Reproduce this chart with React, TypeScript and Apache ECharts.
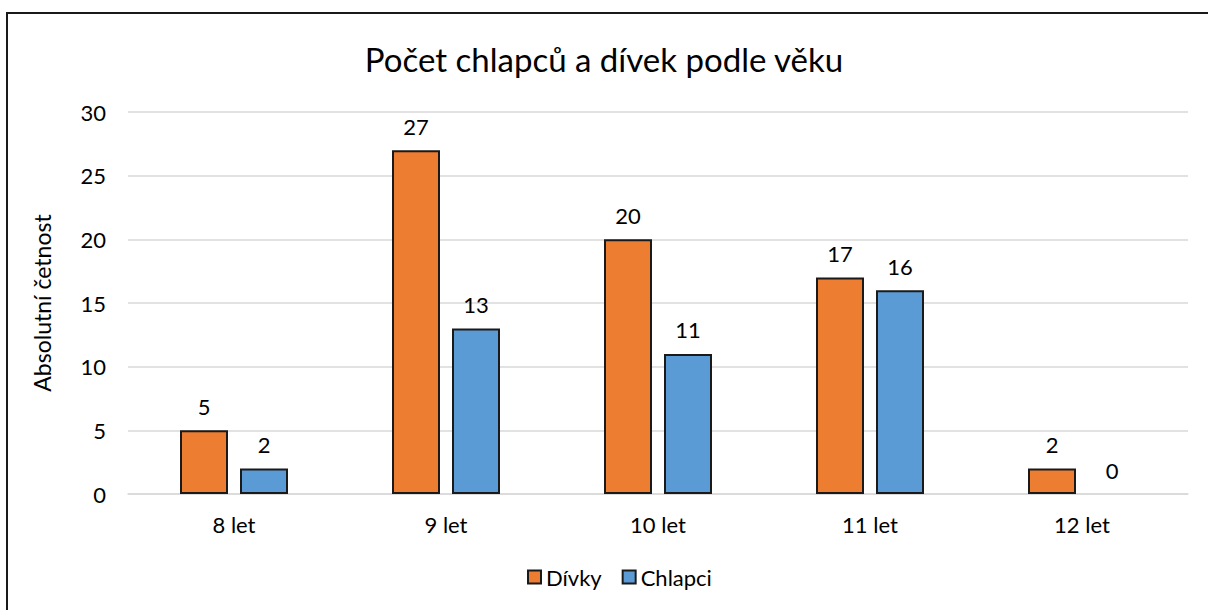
import React, { useEffect, useRef } from "react";
import * as echarts from "echarts";

const title = "Počet chlapců a dívek podle věku";
const yAxisName = "Absolutní četnost";
const categories = ["8 let", "9 let", "10 let", "11 let", "12 let"];
const divky = [5, 27, 20, 17, 2];
const chlapci = [2, 13, 11, 16, 0];
const seriesNames = ["Dívky", "Chlapci"];

const FONT = "Lato, 'Noto Sans', sans-serif";

export default function App() {
  const ref = useRef<HTMLDivElement>(null);
  useEffect(() => {
    if (!ref.current) return;
    const chart = echarts.init(ref.current, null, { renderer: "svg" });
    const mk = (vals: number[]) =>
      vals.map((v) => (v === 0 ? { value: v, itemStyle: { borderWidth: 0 } } : v));
    chart.setOption({
      animation: false,
      backgroundColor: "#fff",
      textStyle: { fontFamily: FONT, color: "#000" },
      title: {
        text: title,
        left: "center",
        top: 37,
        textStyle: { fontFamily: FONT, fontSize: 33, fontWeight: "normal", color: "#000" },
      },
      graphic: [
        {
          type: "rect",
          shape: { x: 7, y: 13, width: 1400, height: 800 },
          style: { fill: "none", stroke: "#1a1a1a", lineWidth: 2 },
          silent: true,
        },
      ],
      legend: {
        bottom: 17,
        left: 522,
        itemWidth: 13,
        itemHeight: 13,
        itemGap: 20,
        icon: "rect",
        textStyle: { fontFamily: FONT, fontSize: 22, color: "#000" },
        data: seriesNames,
      },
      grid: { left: 128, right: 20, top: 112, bottom: 116, containLabel: false },
      xAxis: {
        type: "category",
        data: categories,
        axisLine: { lineStyle: { color: "#d9d9d9", width: 1.5 } },
        axisTick: { show: false },
        axisLabel: { fontFamily: FONT, fontSize: 22, color: "#000", margin: 19 },
      },
      yAxis: {
        type: "value",
        min: 0,
        max: 30,
        interval: 5,
        name: yAxisName,
        nameLocation: "middle",
        nameGap: 75,
        nameTextStyle: { fontFamily: FONT, fontSize: 23, color: "#000" },
        axisLabel: { fontFamily: FONT, fontSize: 22, color: "#000", margin: 22 },
        splitLine: { lineStyle: { color: "#d9d9d9", width: 1.5 } },
        axisLine: { show: false },
        axisTick: { show: false },
      },
      series: [
        {
          name: seriesNames[0],
          type: "bar",
          data: mk(divky),
          barWidth: 48,
          barGap: "25%",
          itemStyle: { color: "#ED7D31", borderColor: "#1a1a1a", borderWidth: 2 },
          label: { show: true, position: "top", distance: 13, fontFamily: FONT, fontSize: 22, color: "#000" },
        },
        {
          name: seriesNames[1],
          type: "bar",
          data: mk(chlapci),
          barWidth: 48,
          barGap: "25%",
          itemStyle: { color: "#5B9BD5", borderColor: "#1a1a1a", borderWidth: 2 },
          label: { show: true, position: "top", distance: 13, fontFamily: FONT, fontSize: 22, color: "#000" },
        },
      ],
    });
    return () => chart.dispose();
  }, []);
  return (
    <div
      ref={ref}
      style={{ position: "fixed", left: 0, top: 0, width: 1208, height: 610 }}
    />
  );
}
